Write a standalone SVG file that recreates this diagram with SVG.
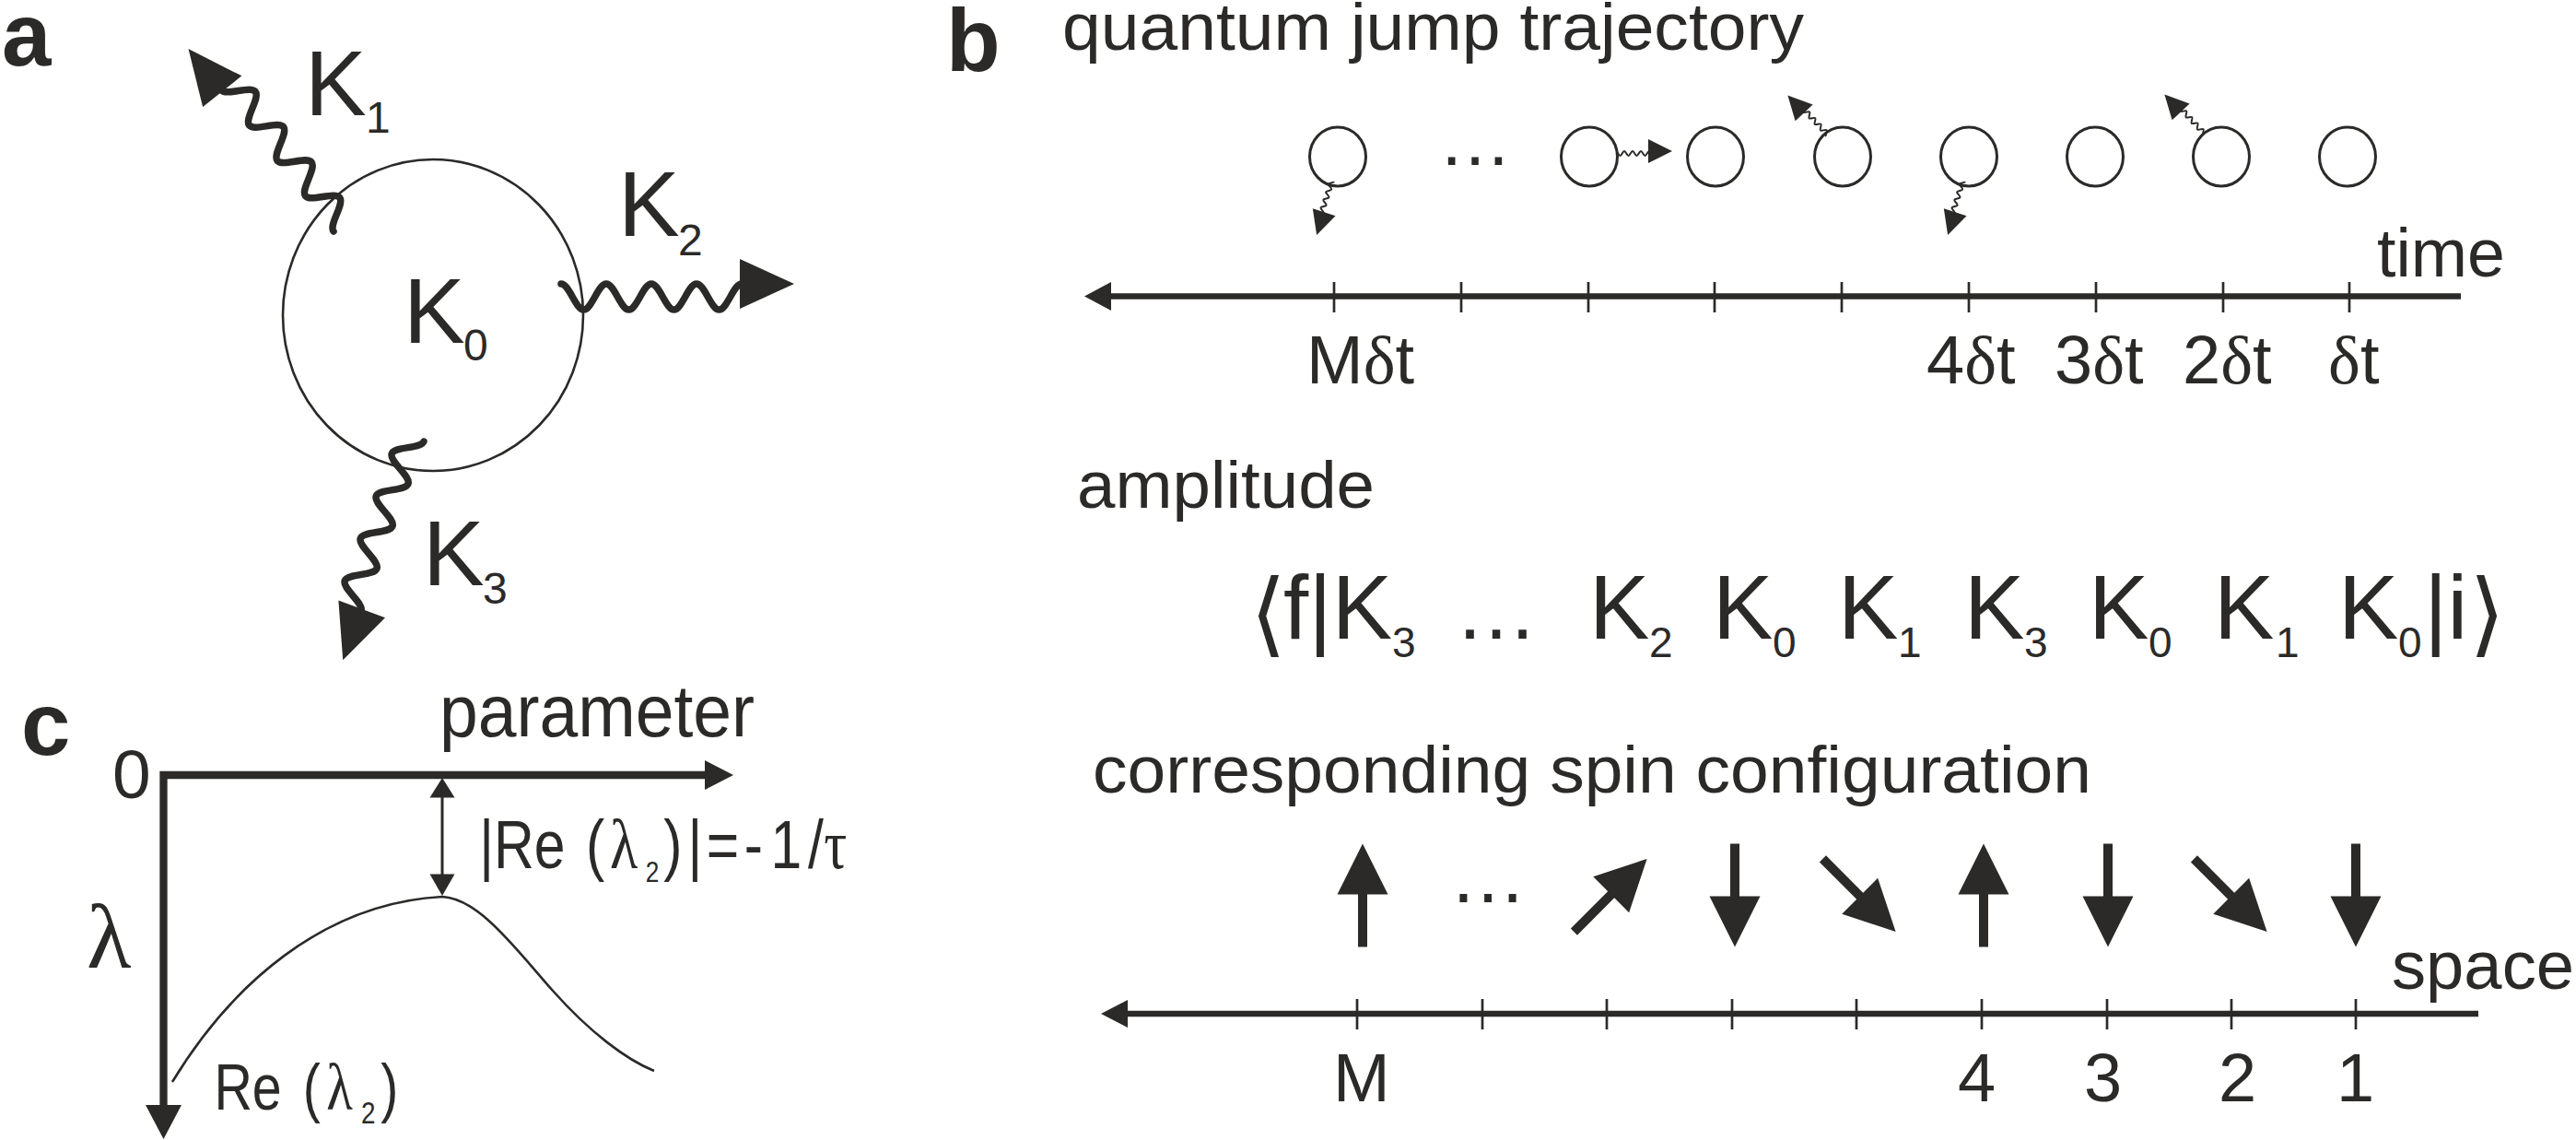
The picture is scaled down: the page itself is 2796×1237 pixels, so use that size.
<svg xmlns="http://www.w3.org/2000/svg" width="2796" height="1237" viewBox="0 0 2796 1237">
<style>
text{fill:#2b2a29;font-family:"Liberation Sans",Arial,sans-serif}
.sf{font-family:"Liberation Serif","Times New Roman",serif}
.lbl{font-weight:bold;font-size:96px}
.k{font-size:100px}
.ks{font-size:48px}
.f{font-size:98px}
.fs{font-size:46px}
.t{font-size:72px}
.ax{font-size:74px}
.ln{fill:none;stroke:#2b2a29}
.fl{fill:#2b2a29;stroke:none}
.ang{font-family:"DejaVu Sans",sans-serif;font-size:100px}
</style>
<defs>
<g id="bigjump">
<path class="ln" stroke-width="7.5" stroke-linecap="round" d="M0,0 C8.8,0 15.7,28 24.5,28 S40.2,0 49,0 S64.7,28 73.5,28 S89.2,0 98,0 S113.7,28 122.5,28 S138.2,0 147,0 S162.7,28 171.5,28 S187.2,0 196,0"/>
<polygon class="fl" points="194,-27 253,0 194,27"/>
</g>
<g id="smalljump">
<path class="ln" stroke-width="2" d="M0,0 C1.6,0 2.9,5 4.5,5 S7.4,0 9,0 S11.9,5 13.5,5 S16.4,0 18,0 S20.9,5 22.5,5 S25.4,0 27,0 S29.9,5 31.5,5 S34.4,0 36,0"/>
<polygon class="fl" points="35,-13 61,0 35,13"/>
</g>
<g id="spin">
<polygon class="fl" points="0,-56 27.5,-1 -27.5,-1"/>
<rect class="fl" x="-5" y="-2" width="10" height="58"/>
</g>
</defs>
<rect width="2796" height="1237" fill="#ffffff"/>

<!-- Panel a -->
<g id="panel-a">
<text class="lbl" x="2" y="71">a</text>
<g id="node-k0">
<ellipse class="ln" stroke-width="2.6" cx="470" cy="342" rx="163" ry="169"/>
<text class="k" x="438" y="372">K</text><text class="ks" x="503" y="391">0</text>
</g>
<g id="connectors-a">
<use href="#bigjump" transform="translate(362,251) rotate(-128.5)"/>
<use href="#bigjump" transform="translate(609,308)"/>
<use href="#bigjump" transform="translate(460,479) rotate(110.3)"/>
</g>
<g id="label-k1"><text class="k" x="331" y="125">K</text><text class="ks" x="397" y="144">1</text></g>
<g id="label-k2"><text class="k" x="671" y="256">K</text><text class="ks" x="736" y="277">2</text></g>
<g id="label-k3"><text class="k" x="459" y="635">K</text><text class="ks" x="524" y="655">3</text></g>
</g>

<!-- Panel b -->
<g id="panel-b">
<text class="lbl" x="1027" y="77">b</text>
<text class="t" x="1153" y="54" textLength="805" lengthAdjust="spacingAndGlyphs">quantum jump trajectory</text>
<g id="trajectory">
<g id="circles">
<ellipse class="ln" stroke-width="3" cx="1452" cy="170" rx="30.5" ry="32"/>
<ellipse class="ln" stroke-width="3" cx="1725" cy="170" rx="30.5" ry="32"/>
<ellipse class="ln" stroke-width="3" cx="1862" cy="170" rx="30.5" ry="32"/>
<ellipse class="ln" stroke-width="3" cx="2000" cy="170" rx="30.5" ry="32"/>
<ellipse class="ln" stroke-width="3" cx="2137" cy="170" rx="30.5" ry="32"/>
<ellipse class="ln" stroke-width="3" cx="2274" cy="170" rx="30.5" ry="32"/>
<ellipse class="ln" stroke-width="3" cx="2411" cy="170" rx="30.5" ry="32"/>
<ellipse class="ln" stroke-width="3" cx="2548" cy="170" rx="30.5" ry="32"/>
</g>
<text x="1561" y="179" style="font-size:80px">…</text>
<g id="connectors-b">
<use href="#smalljump" transform="translate(1448,197) rotate(108)"/>
<use href="#smalljump" transform="translate(1754,164)"/>
<use href="#smalljump" transform="translate(1982,148) rotate(-133)"/>
<use href="#smalljump" transform="translate(2133,197) rotate(108)"/>
<use href="#smalljump" transform="translate(2391,147) rotate(-133)"/>
</g>
</g>
<g id="time-axis">
<line class="ln" stroke-width="6.7" x1="1204" y1="321.5" x2="2671" y2="321.5"/>
<polygon class="fl" points="1177,321.5 1206,306 1206,337"/>
<g class="ln" stroke-width="2.7">
<line x1="1448" y1="306" x2="1448" y2="339"/>
<line x1="1586" y1="306" x2="1586" y2="339"/>
<line x1="1724" y1="306" x2="1724" y2="339"/>
<line x1="1861" y1="306" x2="1861" y2="339"/>
<line x1="1999" y1="306" x2="1999" y2="339"/>
<line x1="2137" y1="306" x2="2137" y2="339"/>
<line x1="2275" y1="306" x2="2275" y2="339"/>
<line x1="2413" y1="306" x2="2413" y2="339"/>
<line x1="2550" y1="306" x2="2550" y2="339"/>
</g>
<text class="ax" x="2580" y="300" textLength="139" lengthAdjust="spacingAndGlyphs">time</text>
<text class="ax" x="1418" y="416">M<tspan class="sf">δ</tspan>t</text>
<text class="ax" x="2091" y="416">4<tspan class="sf">δ</tspan>t</text>
<text class="ax" x="2230" y="416">3<tspan class="sf">δ</tspan>t</text>
<text class="ax" x="2369" y="416">2<tspan class="sf">δ</tspan>t</text>
<text class="ax" x="2527" y="416"><tspan class="sf">δ</tspan>t</text>
</g>
<text class="t" x="1169" y="551" textLength="323" lengthAdjust="spacingAndGlyphs">amplitude</text>
<g id="amplitude-formula">
<text class="ang" x="1357" y="700">⟨</text>
<text class="f" x="1393" y="693">f|K</text><text class="fs" x="1511" y="713">3</text>
<text x="1579" y="693" style="font-size:90px">…</text>
<text class="f" x="1725" y="693">K</text><text class="fs" x="1790" y="713">2</text>
<text class="f" x="1859" y="693">K</text><text class="fs" x="1924" y="713">0</text>
<text class="f" x="1995" y="693">K</text><text class="fs" x="2060" y="713">1</text>
<text class="f" x="2132" y="693">K</text><text class="fs" x="2197" y="713">3</text>
<text class="f" x="2267" y="693">K</text><text class="fs" x="2332" y="713">0</text>
<text class="f" x="2403" y="693">K</text><text class="fs" x="2470" y="713">1</text>
<text class="f" x="2538" y="693">K</text><text class="fs" x="2603" y="713">0</text>
<text class="f" x="2631" y="693">|i</text>
<text class="ang" x="2680" y="700">⟩</text>
</g>
<text class="t" x="1186" y="860" textLength="1084" lengthAdjust="spacingAndGlyphs">corresponding spin configuration</text>
<g id="spins">
<use href="#spin" transform="translate(1479,971.5)"/>
<text x="1573" y="979" style="font-size:84px">…</text>
<use href="#spin" transform="translate(1748,971.5) rotate(45)"/>
<use href="#spin" transform="translate(1883,971.5) rotate(180)"/>
<use href="#spin" transform="translate(2018,971.5) rotate(135)"/>
<use href="#spin" transform="translate(2153,971.5)"/>
<use href="#spin" transform="translate(2288,971.5) rotate(180)"/>
<use href="#spin" transform="translate(2421,971.5) rotate(135)"/>
<use href="#spin" transform="translate(2557,971.5) rotate(180)"/>
</g>
<g id="space-axis">
<line class="ln" stroke-width="6.7" x1="1222" y1="1100" x2="2690" y2="1100"/>
<polygon class="fl" points="1195,1100 1224,1085 1224,1115"/>
<g class="ln" stroke-width="2.7">
<line x1="1473" y1="1084" x2="1473" y2="1117"/>
<line x1="1609" y1="1084" x2="1609" y2="1117"/>
<line x1="1744" y1="1084" x2="1744" y2="1117"/>
<line x1="1880" y1="1084" x2="1880" y2="1117"/>
<line x1="2015" y1="1084" x2="2015" y2="1117"/>
<line x1="2151" y1="1084" x2="2151" y2="1117"/>
<line x1="2287" y1="1084" x2="2287" y2="1117"/>
<line x1="2422" y1="1084" x2="2422" y2="1117"/>
<line x1="2557" y1="1084" x2="2557" y2="1117"/>
</g>
<text class="ax" x="2596" y="1073" textLength="198" lengthAdjust="spacingAndGlyphs">space</text>
<text class="ax" x="1447" y="1195">M</text>
<text class="ax" x="2125" y="1195">4</text>
<text class="ax" x="2262" y="1195">3</text>
<text class="ax" x="2408" y="1195">2</text>
<text class="ax" x="2536" y="1195">1</text>
</g>
</g>

<!-- Panel c -->
<g id="panel-c">
<text class="lbl" x="23" y="819">c</text>
<text x="122" y="866" style="font-size:75px">0</text>
<g id="axes-c">
<path class="ln" stroke-width="8.3" stroke-linejoin="miter" d="M767,841 H177.5 V1201"/>
<polygon class="fl" points="765,825 796,841 765,857"/>
<polygon class="fl" points="158,1199 197,1199 177.5,1236"/>
</g>
<text x="477" y="799" style="font-size:80px" textLength="342" lengthAdjust="spacingAndGlyphs">parameter</text>
<text class="sf" x="94" y="1050" style="font-size:100px">λ</text>
<g id="gap-arrow">
<line class="ln" stroke-width="3" x1="480" y1="862" x2="480" y2="951"/>
<polygon class="fl" points="480,844 466.5,865.5 493.5,865.5"/>
<polygon class="fl" points="480,972 466.5,948.5 493.5,948.5"/>
</g>
<path id="curve" class="ln" stroke-width="2.6" d="M187,1174 C250,1070 350,980 480,973 C520,975 560,1030 600,1075 S680,1150 710,1162"/>
<g transform="translate(526,942) scale(0.82,1)" style="font-size:74px">
<text x="-7" y="0">|Re</text>
<text x="134" y="0">(</text>
<text class="sf" x="166" y="0" style="font-size:76px">λ</text>
<text x="213" y="15" style="font-size:32px">2</text>
<text x="237" y="0">)</text>
<text x="269" y="0">|</text>
<text x="293.6" y="0">=</text>
<text x="343.5" y="0">-</text>
<text x="378.6" y="0">1</text>
<text x="428" y="0">/</text>
<text class="sf" x="449" y="0" style="font-size:76px">τ</text>
</g>
<g transform="translate(237,1204) scale(0.82,1)" style="font-size:70px">
<text x="-5.6" y="0">Re</text>
<text x="112" y="0">(</text>
<text class="sf" x="143" y="0" style="font-size:72px">λ</text>
<text x="189" y="15" style="font-size:34px">2</text>
<text x="215" y="0">)</text>
</g>
</g>
</svg>
